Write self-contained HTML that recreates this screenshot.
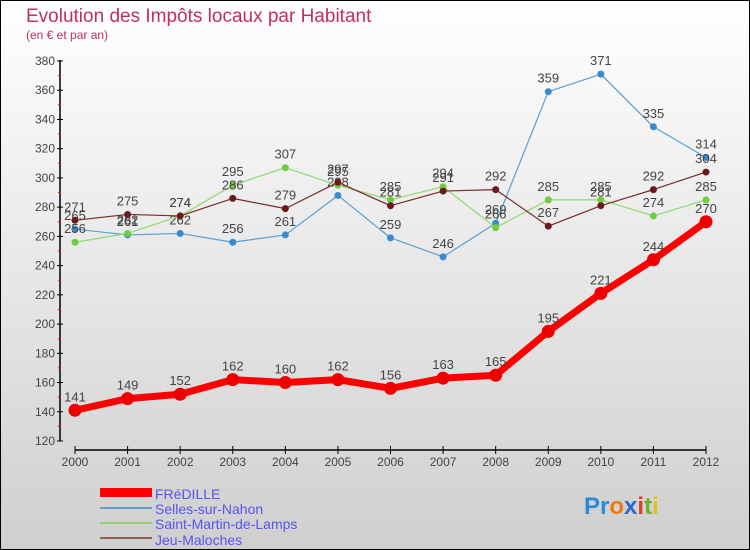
<!DOCTYPE html>
<html><head><meta charset="utf-8"><style>
body{margin:0;}
svg{display:block;font-family:"Liberation Sans",sans-serif;}
</style></head><body>
<svg id="c" width="750" height="550" viewBox="0 0 750 550">
<defs><linearGradient id="bg" x1="0" y1="0" x2="0" y2="1"><stop offset="0" stop-color="#ffffff"/><stop offset="1" stop-color="#cfcfcf"/></linearGradient></defs>
<rect x="0.5" y="0.5" width="749" height="549" fill="url(#bg)" stroke="#000"/>
<text x="26" y="22" font-size="19" fill="#c0305a">Evolution des Impôts locaux par Habitant</text>
<text x="26" y="39" font-size="12" fill="#c0305a">(en € et par an)</text>
<g id="axes"></g><g id="series"></g>
<g>
<rect x="100" y="488" width="52" height="9" fill="#ff0000"/>
<text x="155" y="499" font-size="14" fill="#5555ee">FRéDILLE</text>
<line x1="100" y1="508" x2="152" y2="508" stroke="#6aa0c8" stroke-width="2"/>
<text x="155" y="514" font-size="14" fill="#5555ee">Selles-sur-Nahon</text>
<line x1="100" y1="523" x2="152" y2="523" stroke="#90d070" stroke-width="2"/>
<text x="155" y="529" font-size="14" fill="#5555ee">Saint-Martin-de-Lamps</text>
<line x1="100" y1="538" x2="152" y2="538" stroke="#906060" stroke-width="2"/>
<text x="155" y="545" font-size="14" fill="#5555ee">Jeu-Maloches</text>
</g>
<g font-size="24" font-weight="bold">
<text x="584" y="514"><tspan fill="#2a8ad8">Pr</tspan><tspan fill="#f07a10">o</tspan><tspan fill="#2a6ad0">x</tspan><tspan fill="#e04020">i</tspan><tspan fill="#70b030">t</tspan><tspan fill="#e0c020">i</tspan></text>
</g>
</svg>
<script>
const years=[2000,2001,2002,2003,2004,2005,2006,2007,2008,2009,2010,2011,2012];
const fredille=[141,149,152,162,160,162,156,163,165,195,221,244,270];
const selles=[265,261,262,256,261,288,259,246,269,359,371,335,314];
const saintMartin=[256,262,274,295,307,295,285,294,266,285,285,274,285];
const jeu=[271,275,274,286,279,297,281,291,292,267,281,292,304];
const yTicks=[120,140,160,180,200,220,240,260,280,300,320,340,360,380];
const NS="http://www.w3.org/2000/svg";
const X=i=>75+i*(706-75)/12;
const Y=v=>441-(v-120)*(380/260);
function mk(t,a,p){const e=document.createElementNS(NS,t);for(const k in a)e.setAttribute(k,a[k]);p.appendChild(e);return e;}
const ax=document.getElementById('axes');
let l=mk('line',{x1:60,y1:60,x2:60,y2:441,stroke:'#000','stroke-width':1.5},ax);


yTicks.forEach(v=>{
 mk('line',{x1:57,y1:Y(v),x2:63,y2:Y(v),stroke:'#000'},ax);
 if(v<380)mk('line',{x1:58,y1:Y(v+10),x2:61,y2:Y(v+10),stroke:'#f00'},ax);
 const t=mk('text',{x:55,y:Y(v)+4,'font-size':12,fill:'#444','text-anchor':'end'},ax);t.textContent=v;
 
 
});
l=mk('line',{x1:75,y1:450,x2:706,y2:450,stroke:'#000','stroke-width':1.5},ax);


years.forEach((y,i)=>{
 mk('line',{x1:X(i),y1:446,x2:X(i),y2:454,stroke:'#000'},ax);
 const t=mk('text',{x:X(i),y:466,'font-size':12,fill:'#444','text-anchor':'middle'},ax);t.textContent=y;
 
 
});
const sg=document.getElementById('series');
function draw(vals,col,dot,w,r,name){
 const g=mk('g',{},sg);
 
 
 const p=mk('polyline',{points:vals.map((v,i)=>X(i)+','+Y(v)).join(' '),fill:'none',stroke:col,'stroke-width':w,'stroke-linejoin':'round'},g);
 
 
 vals.forEach((v,i)=>{
  const c=mk('circle',{cx:X(i),cy:Y(v),r:r,fill:dot},g);
  
  
  const t=mk('text',{x:X(i),y:Y(v)-9,'font-size':13,fill:'#444','text-anchor':'middle'},g);t.textContent=v;
  
  
 });
}
draw(selles,'#5a9ed0','#3a8ad0',1.2,3.5,'series-selles');
draw(saintMartin,'#90d870','#70cc40',1.2,3.5,'series-saint-martin');
draw(jeu,'#7a2a2a','#6a1a1a',1.2,3.5,'series-jeu');
draw(fredille,'#ff0000','#ee0000',7,6.5,'series-fredille');
</script>
</body></html>
